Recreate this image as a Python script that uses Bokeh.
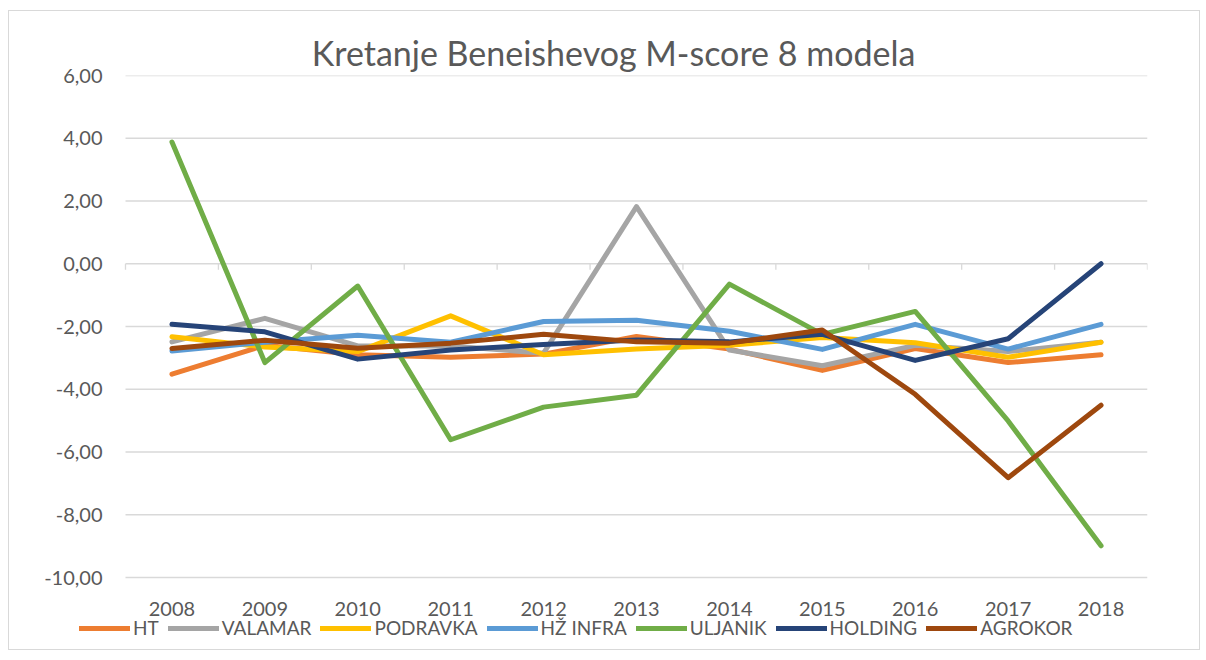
from bokeh.plotting import figure
from bokeh.models import Range1d, Legend, LegendItem, FixedTicker
from bokeh.embed import file_html
from bokeh.resources import INLINE

years = ["2008", "2009", "2010", "2011", "2012", "2013", "2014", "2015", "2016", "2017", "2018"]
ht       = [-3.52, -2.60, -2.90, -2.98, -2.88, -2.32, -2.72, -3.40, -2.70, -3.15, -2.90]
valamar  = [-2.49, -1.74, -2.62, -2.62, -2.85, 1.82, -2.75, -3.25, -2.60, -2.80, -2.50]
podravka = [-2.33, -2.65, -2.80, -1.66, -2.90, -2.72, -2.60, -2.35, -2.52, -2.98, -2.50]
hz_infra = [-2.78, -2.50, -2.28, -2.50, -1.84, -1.80, -2.15, -2.73, -1.93, -2.72, -1.93]
uljanik  = [3.88, -3.15, -0.71, -5.61, -4.57, -4.19, -0.65, -2.25, -1.52, -5.01, -8.99]
holding  = [-1.93, -2.17, -3.04, -2.75, -2.57, -2.43, -2.49, -2.25, -3.08, -2.39, 0.00]
agrokor  = [-2.70, -2.44, -2.69, -2.53, -2.25, -2.49, -2.53, -2.11, -4.16, -6.82, -4.51]

series_names = ["HT", "VALAMAR", "PODRAVKA", "HŽ INFRA", "ULJANIK", "HOLDING", "AGROKOR"]
series_vals = [ht, valamar, podravka, hz_infra, uljanik, holding, agrokor]
colors = ["#ED7D31", "#A5A5A5", "#FFC000", "#5B9BD5", "#70AD47", "#264478", "#9E480E"]
y_ticks = [-10, -8, -6, -4, -2, 0, 2, 4, 6]

FONT = "Lato"
TXT = "#595959"
GRID = "#d9d9d9"

# layout constants (pixels)
FIG_X = 10           # page x of the figure box
MB_LEFT = 70         # left border
PLOT_L, PLOT_R = 126, 1148   # page x of the category area
PLOT_T, PLOT_B = 76, 578     # page y of the value area (6 .. -10)
FRAME_B = 650                # frame extended downwards to hold the legend
LABEL_RIGHT = 103            # page x where the value labels end

n = len(years)
frame_left = FIG_X + MB_LEFT
frame_w = PLOT_R - frame_left
px_per_cat = (PLOT_R - PLOT_L) / n
px_per_unit = (PLOT_B - PLOT_T) / (max(y_ticks) - min(y_ticks))
x_start = -(PLOT_L - frame_left) / px_per_cat
y_start = min(y_ticks) - (FRAME_B - PLOT_B) / px_per_unit
frame_h = FRAME_B - PLOT_T

xs = [i + 0.5 for i in range(n)]

p = figure(frame_width=frame_w, frame_height=frame_h, output_backend="svg", toolbar_location=None,
           x_range=Range1d(x_start, n), y_range=Range1d(y_start, max(y_ticks)),
           min_border_left=MB_LEFT, min_border_right=52, min_border_top=64, min_border_bottom=0,
           title="Kretanje Beneishevog M-score 8 modela")
p.margin = (10, 0, 0, 8)
p.styles = {"border": "1px solid #d9d9d9"}
p.outline_line_color = None
p.title.align = "center"
p.title.text_font = FONT
p.title.text_font_size = "34px"
p.title.text_font_style = "normal"
p.title.text_color = TXT
p.title.standoff = 5

p.xgrid.grid_line_color = None
p.ygrid.grid_line_color = None

# horizontal gridlines across the category area only
p.segment(x0=[0] * len(y_ticks), y0=y_ticks, x1=[n] * len(y_ticks), y1=y_ticks,
          line_color=GRID, line_width=1.3)
# tick marks of the category axis (at zero) between categories
bounds = list(range(n + 1))
p.segment(x0=bounds, y0=[0] * len(bounds), x1=bounds, y1=[-6 / px_per_unit] * len(bounds),
          line_color=GRID, line_width=1.3)

p.yaxis.ticker = FixedTicker(ticks=y_ticks)
p.yaxis.major_label_overrides = {t: f"{t:.2f}".replace(".", ",") for t in y_ticks}
p.yaxis.axis_line_color = None
p.yaxis.major_tick_line_color = None
p.yaxis.minor_tick_line_color = None
p.yaxis.major_tick_out = 0
p.yaxis.major_tick_in = 0
p.yaxis.major_label_standoff = -(LABEL_RIGHT - frame_left)
p.yaxis.major_label_text_font = FONT
p.yaxis.major_label_text_font_size = "20px"
p.yaxis.major_label_text_color = TXT

p.xaxis.fixed_location = min(y_ticks)
p.xaxis.ticker = FixedTicker(ticks=xs)
p.xaxis.major_label_overrides = {x: y for x, y in zip(xs, years)}
p.xaxis.axis_line_color = None
p.xaxis.major_tick_line_color = None
p.xaxis.minor_tick_line_color = None
p.xaxis.major_tick_out = 0
p.xaxis.major_tick_in = 0
p.xaxis.major_label_standoff = 24
p.xaxis.major_label_text_font = FONT
p.xaxis.major_label_text_font_size = "20px"
p.xaxis.major_label_text_color = TXT

items = []
for name, vals, c in zip(series_names, series_vals, colors):
    r = p.line(xs, vals, line_color=c, line_width=5, line_cap="round", line_join="round")
    items.append(LegendItem(label=name, renderers=[r]))

legend = Legend(items=items, orientation="horizontal", location=(0, 10),
                label_text_font=FONT, label_text_font_size="19px", label_text_color=TXT,
                glyph_width=51, glyph_height=10, label_height=20, label_standoff=3, spacing=9,
                padding=0, margin=0, border_line_color=None, background_fill_alpha=0)
p.add_layout(legend, "center")

open("out.html", "w").write(file_html(p, INLINE))
